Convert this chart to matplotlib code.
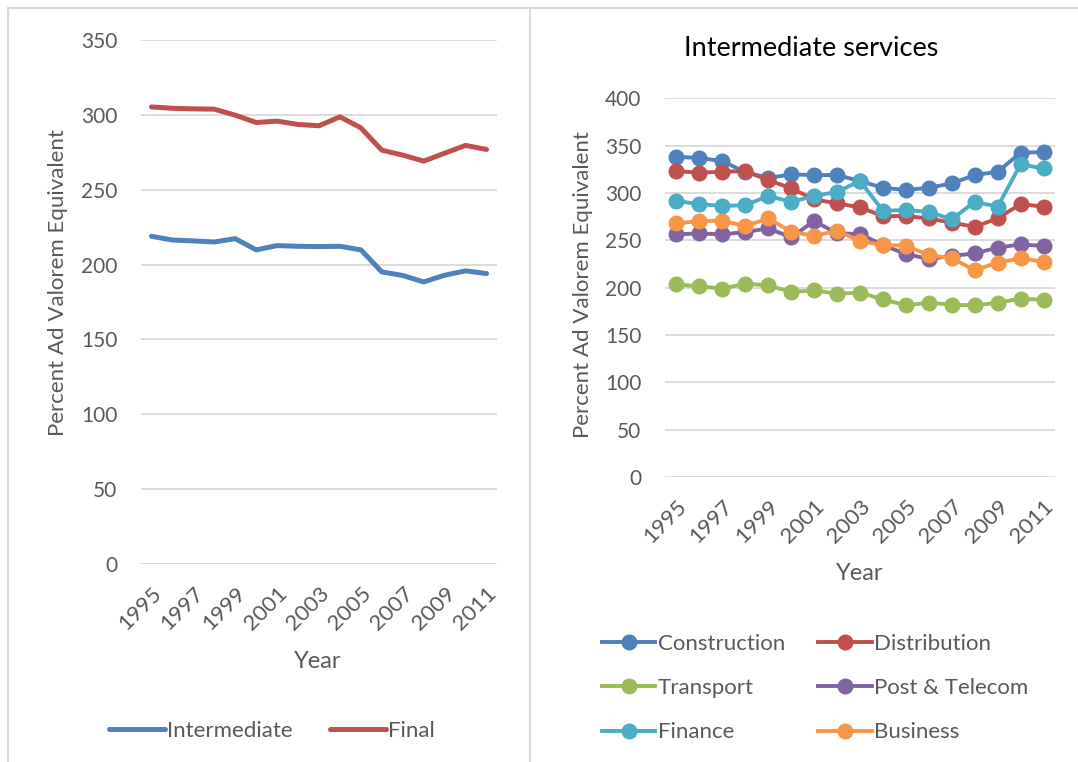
import matplotlib
matplotlib.use("Agg")
import matplotlib.pyplot as plt
from matplotlib.lines import Line2D

plt.rcParams['font.family'] = ['Lato', 'DejaVu Sans']

years = list(range(1995, 2012))
year_labels = [str(y) if (y - 1995) % 2 == 0 else "" for y in years]

intermediate = [218.9, 216.4, 215.8, 215.1, 217.3, 209.8, 212.7, 212.2, 212.0, 212.2,
                209.8, 195.1, 192.7, 188.4, 192.9, 195.8, 194.0]
final = [305.3, 304.4, 304.0, 303.8, 299.8, 294.9, 295.8, 293.6, 292.7, 298.7,
         291.3, 276.4, 273.1, 269.1, 274.4, 279.6, 276.9]

construction = [338.4, 337.0, 333.8, 322.0, 316.0, 319.7, 319.0, 319.0, 312.7, 305.6,
                303.2, 305.6, 310.2, 319.0, 322.5, 342.6, 343.3]
distribution = [323.2, 321.5, 322.5, 323.2, 313.7, 305.0, 293.3, 289.1, 284.9, 275.7,
                275.7, 273.2, 268.7, 264.4, 273.2, 288.4, 285.6]
transport = [203.5, 201.4, 199.0, 204.2, 202.5, 195.4, 197.2, 193.7, 194.7, 187.7,
             181.3, 184.2, 182.0, 181.3, 184.2, 188.4, 187.3]
post_telecom = [256.3, 257.4, 256.3, 258.8, 262.7, 253.2, 270.4, 257.4, 256.7, 245.0,
                235.6, 230.3, 233.5, 236.3, 242.3, 245.8, 244.0]
finance = [291.5, 288.4, 286.3, 287.3, 296.8, 290.8, 296.8, 301.4, 312.7, 281.3,
           282.0, 280.3, 272.2, 290.8, 285.6, 330.3, 326.0]
business = [268.0, 270.4, 270.8, 265.1, 273.2, 259.2, 254.6, 260.2, 249.3, 245.0,
            244.4, 234.5, 231.0, 218.7, 226.4, 231.0, 227.5]

series_right = [
    ("Construction", construction, "#4F81BD"),
    ("Distribution", distribution, "#C0504D"),
    ("Transport", transport, "#9BBB59"),
    ("Post & Telecom", post_telecom, "#8064A2"),
    ("Finance", finance, "#4BACC6"),
    ("Business", business, "#F79646"),
]

TXT = "#595959"
GRID = "#D9D9D9"

W, H = 1078, 762
fig = plt.figure(figsize=(W / 100, H / 100), dpi=100)

def fx(px):
    return px / W

def fy(py):
    return 1 - py / H

# panel borders
for (x0, y0, x1, y1) in [(8, 8, 1078, 8), (8, 8, 8, 762), (530, 8, 530, 762)]:
    fig.add_artist(Line2D([fx(x0), fx(x1)], [fy(y0), fy(y1)], color=GRID, lw=1.5,
                          transform=fig.transFigure))

def style_axes(ax, ymax, step):
    for s in ax.spines.values():
        s.set_visible(False)
    ax.set_ylim(0, ymax)
    ax.set_yticks(range(0, ymax + 1, step))
    ax.set_xlim(-0.5, len(years) - 0.5)
    ax.set_xticks(range(len(years)))
    ax.set_xticklabels(year_labels, rotation=45, ha='right', rotation_mode='anchor')
    ax.tick_params(length=0, labelsize=15, colors=TXT)
    ax.tick_params(axis='x', labelsize=16, pad=14)
    ax.tick_params(axis='y', pad=17)
    ax.grid(axis='y', color=GRID, lw=1.3)
    ax.set_axisbelow(True)
    ax.set_xlabel("Year", fontsize=17, color=TXT)
    ax.set_ylabel("Percent Ad Valorem Equivalent", fontsize=16, color=TXT)

# Left chart
axL = fig.add_axes([fx(141), fy(564), fx(497) - fx(141), fy(40) - fy(564)])
style_axes(axL, 350, 50)
x = range(len(years))
axL.plot(x, intermediate, color="#4F81BD", lw=3.6, solid_capstyle='round', label="Intermediate")
axL.plot(x, final, color="#C0504D", lw=3.6, solid_capstyle='round', label="Final")
axL.yaxis.set_label_coords(-0.205, 0.538)
axL.xaxis.set_label_coords(0.497, -0.166)
fig.legend(*axL.get_legend_handles_labels(), loc='center', ncol=2, frameon=False,
           bbox_to_anchor=(fx(272), fy(731)), fontsize=16, labelcolor=TXT,
           handlelength=2.5, handletextpad=0.1, columnspacing=1.7)

# Right chart
axR = fig.add_axes([fx(665), fy(477), fx(1055) - fx(665), fy(98.4) - fy(477)])
style_axes(axR, 400, 50)
handles = []
for name, vals, col in series_right:
    h, = axR.plot(x, vals, color=col, lw=2.8, marker='o', markersize=10.5, label=name)
    handles.append(h)
axR.yaxis.set_label_coords(-0.185, 0.507)
axR.xaxis.set_label_coords(0.5, -0.227)
fig.text(fx(811), fy(48), "Intermediate services", fontsize=19.5, color="#000000",
         ha='center', va='center')
order = [0, 2, 4, 1, 3, 5]
fig.legend([handles[i] for i in order], [series_right[i][0] for i in order],
           loc='center', ncol=2, frameon=False,
           bbox_to_anchor=(fx(815), fy(688)), fontsize=16, labelcolor=TXT,
           handlelength=2.4, handletextpad=0.1, columnspacing=1.5, labelspacing=1.1)

fig.savefig("out.png", dpi=100, facecolor="white")
